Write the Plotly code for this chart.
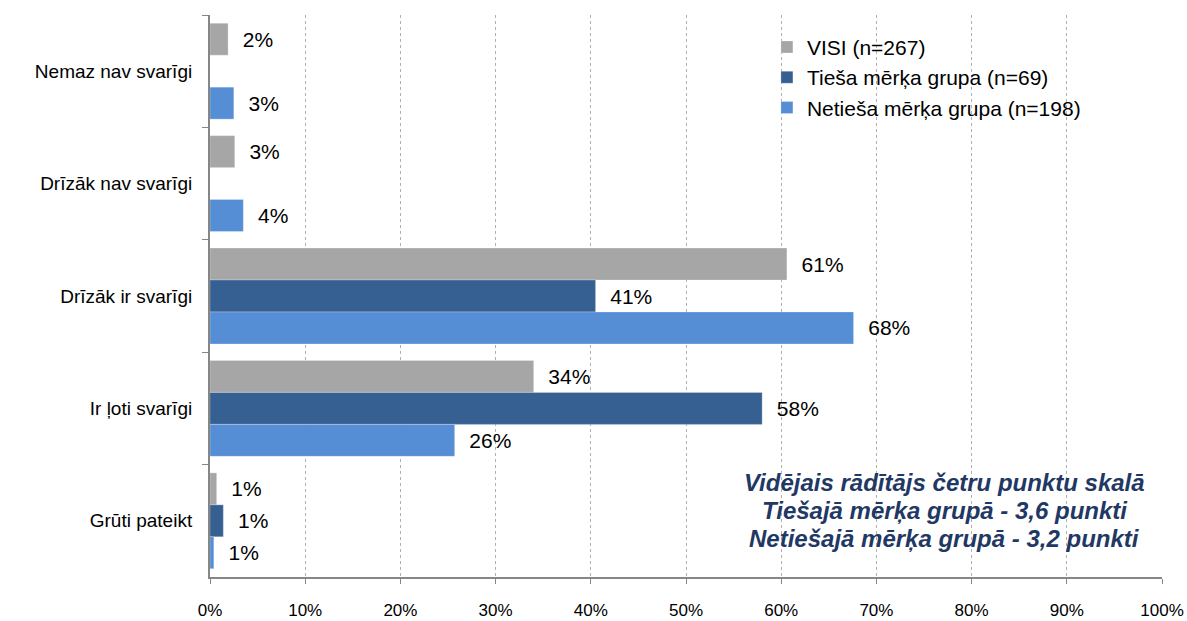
import plotly.graph_objects as go

categories = ["Nemaz nav svarīgi", "Drīzāk nav svarīgi", "Drīzāk ir svarīgi", "Ir ļoti svarīgi", "Grūti pateikt"]
series_names = ["VISI (n=267)", "Tieša mērķa grupa (n=69)", "Netieša mērķa grupa (n=198)"]
visi = [1.9, 2.6, 60.6, 34.0, 0.7]
tiesa = [None, None, 40.5, 58.0, 1.4]
netiesa = [2.5, 3.5, 67.6, 25.7, 0.4]
visi_labels = ["2%", "3%", "61%", "34%", "1%"]
tiesa_labels = ["", "", "41%", "58%", "1%"]
netiesa_labels = ["3%", "4%", "68%", "26%", "1%"]
colors = ["#A6A6A6", "#376092", "#558ED5"]
x_ticks = list(range(0, 101, 10))
note_lines = ["Vidējais rādītājs četru punktu skalā",
              "Tiešajā mērķa grupā - 3,6 punkti",
              "Netiešajā mērķa grupā - 3,2 punkti"]

FONT = "Liberation Sans, Arial, sans-serif"

fig = go.Figure()
all_vals = [visi, tiesa, netiesa]
all_labels = [visi_labels, tiesa_labels, netiesa_labels]
for i, (name, vals, labs) in enumerate(zip(series_names, all_vals, all_labels)):
    fig.add_trace(go.Bar(
        y=categories, x=vals, name=name, orientation="h",
        marker=dict(color=colors[i], line=dict(color="rgba(255,255,255,0.5)", width=0.5)),
        text=["&nbsp;&nbsp;" + l if l else "" for l in labs],
        textposition="outside", cliponaxis=False, constraintext="none",
        textfont=dict(family=FONT, size=21, color="#000000"),
        legendgroup="g%d" % i,
        hoverinfo="skip",
    ))

for k, line in enumerate(note_lines):
    fig.add_annotation(
        x=0.772, y=0.119, xref="paper", yref="paper",
        yshift=(1 - k) * 28,
        text="<b><i>" + line + "</i></b>", showarrow=False,
        font=dict(family=FONT, size=24, color="#1F3864"),
        align="center", xanchor="center", yanchor="middle",
    )

fig.update_layout(
    width=1187, height=621,
    margin=dict(l=210, r=25, t=15, b=44),
    paper_bgcolor="white", plot_bgcolor="white",
    barmode="group", bargap=0.147, bargroupgap=0,
    font=dict(family=FONT, size=19, color="#000000"),
    showlegend=True,
    legend=dict(x=0.585, y=0.979, xanchor="left", yanchor="top",
                font=dict(family=FONT, size=21, color="#000000"),
                tracegroupgap=10, traceorder="normal",
                itemwidth=30, bgcolor="rgba(0,0,0,0)"),
    xaxis=dict(range=[0, 100], tickvals=x_ticks, ticktext=[f"{v}%" for v in x_ticks],
               tickfont=dict(family=FONT, size=17, color="#000000"),
               showgrid=True, gridcolor="#B0B0B0", griddash="dot", gridwidth=1,
               showline=True, linecolor="#868686", linewidth=2,
               ticks="outside", ticklen=5, tickcolor="#868686",
               ticklabelstandoff=12, zeroline=False, automargin=False),
    yaxis=dict(autorange="reversed", tickson="boundaries",
               tickfont=dict(family=FONT, size=19, color="#000000"),
               showline=True, linecolor="#868686", linewidth=2,
               ticks="outside", ticklen=6, tickcolor="#868686",
               ticklabelstandoff=12, showgrid=False, automargin=False),
)

fig.write_html("out.html", config={"displayModeBar": False},
               post_script="document.body.style.margin='0';")
